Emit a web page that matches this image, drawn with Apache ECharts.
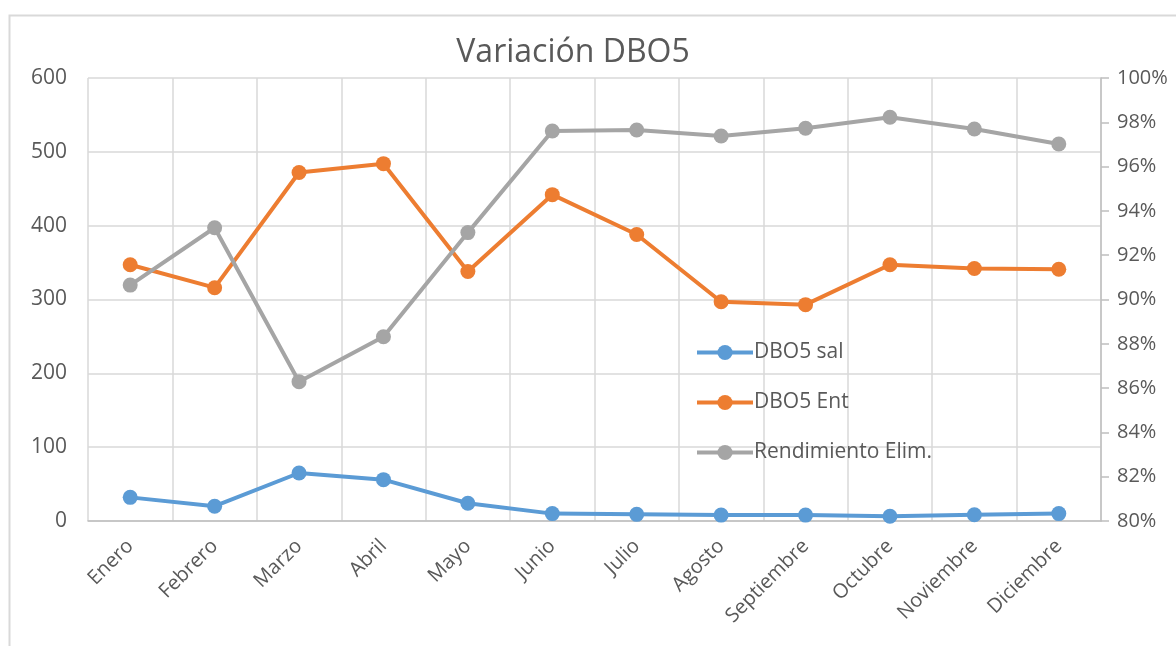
<!DOCTYPE html>
<html>
<head>
<meta charset="utf-8">
<script src="https://cdn.jsdelivr.net/npm/echarts@6/dist/echarts.min.js"></script>
<style>
html,body{margin:0;padding:0;background:#fff;}
#chart{width:1176px;height:646px;}
</style>
</head>
<body>
<div id="chart"></div>
<script>
const months = ['Enero','Febrero','Marzo','Abril','Mayo','Junio','Julio','Agosto','Septiembre','Octubre','Noviembre','Diciembre'];
const dboSal = [32, 20, 65, 56, 24, 10, 9, 8, 8, 6.5, 8.5, 10];
const dboEnt = [347, 316, 472, 484, 338, 442, 388, 297, 293, 347, 342, 341];
const rendimiento = [90.65, 93.24, 86.29, 88.32, 93.02, 97.61, 97.65, 97.38, 97.73, 98.23, 97.70, 97.02];
const leftTicks = {min: 0, max: 600, interval: 100};
const rightTicks = {min: 80, max: 100, interval: 2};

const txt = '#595959';
const font = "'Open Sans', 'Noto Sans', sans-serif";
const chart = echarts.init(document.getElementById('chart'));
const lineSeries = (name, data, color, axis) => ({
  name, type: 'line', data, yAxisIndex: axis,
  symbol: 'circle', symbolSize: 15,
  lineStyle: {color, width: 4},
  itemStyle: {color},
  emphasis: {disabled: true},
  animation: false
});
chart.setOption({
  animation: false,
  textStyle: {fontFamily: font},
  graphic: [{
    type: 'rect', left: 7, top: 13,
    shape: {width: 1300, height: 632},
    style: {fill: 'none', stroke: '#d9d9d9', lineWidth: 2},
    silent: true, z: -1
  }],
  title: {
    text: 'Variación DBO5', left: 568, top: 32, textAlign: 'center',
    textStyle: {color: txt, fontSize: 32, fontWeight: 'normal', fontFamily: font}
  },
  legend: {
    orient: 'vertical', left: 695, top: 342, itemGap: 29, padding: 0,
    itemWidth: 56, itemHeight: 19,
    lineStyle: {width: 4},
    textStyle: {color: txt, fontSize: 21, fontFamily: font, padding: [0, 0, 0, -4]},
    data: ['DBO5 sal', 'DBO5 Ent', 'Rendimiento Elim.']
  },
  grid: {left: 88, right: 75, top: 78, bottom: 125, containLabel: false},
  xAxis: {
    type: 'category', data: months, boundaryGap: true,
    axisLine: {lineStyle: {color: '#bfbfbf', width: 1.5}},
    axisTick: {show: false},
    splitLine: {show: true, lineStyle: {color: '#d9d9d9', width: 1.5}},
    axisLabel: {color: txt, fontSize: 20, rotate: 45, margin: 22, interval: 0, fontFamily: font}
  },
  yAxis: [{
    type: 'value', min: leftTicks.min, max: leftTicks.max, interval: leftTicks.interval,
    axisLine: {show: false}, axisTick: {show: false},
    splitLine: {lineStyle: {color: '#d9d9d9', width: 1.5}},
    axisLabel: {color: txt, fontSize: 21, margin: 21, fontFamily: font}
  }, {
    type: 'value', position: 'right', min: rightTicks.min, max: rightTicks.max, interval: rightTicks.interval,
    axisLine: {show: true, lineStyle: {color: '#bfbfbf', width: 1.5}},
    axisTick: {show: true, length: 8, lineStyle: {color: '#bfbfbf', width: 1.5}},
    splitLine: {show: false},
    axisLabel: {color: txt, fontSize: 20, margin: 16, formatter: '{value}%', fontFamily: font}
  }],
  series: [
    lineSeries('DBO5 sal', dboSal, '#5B9BD5', 0),
    lineSeries('DBO5 Ent', dboEnt, '#ED7D31', 0),
    lineSeries('Rendimiento Elim.', rendimiento, '#A5A5A5', 1)
  ]
});
</script>
</body>
</html>
